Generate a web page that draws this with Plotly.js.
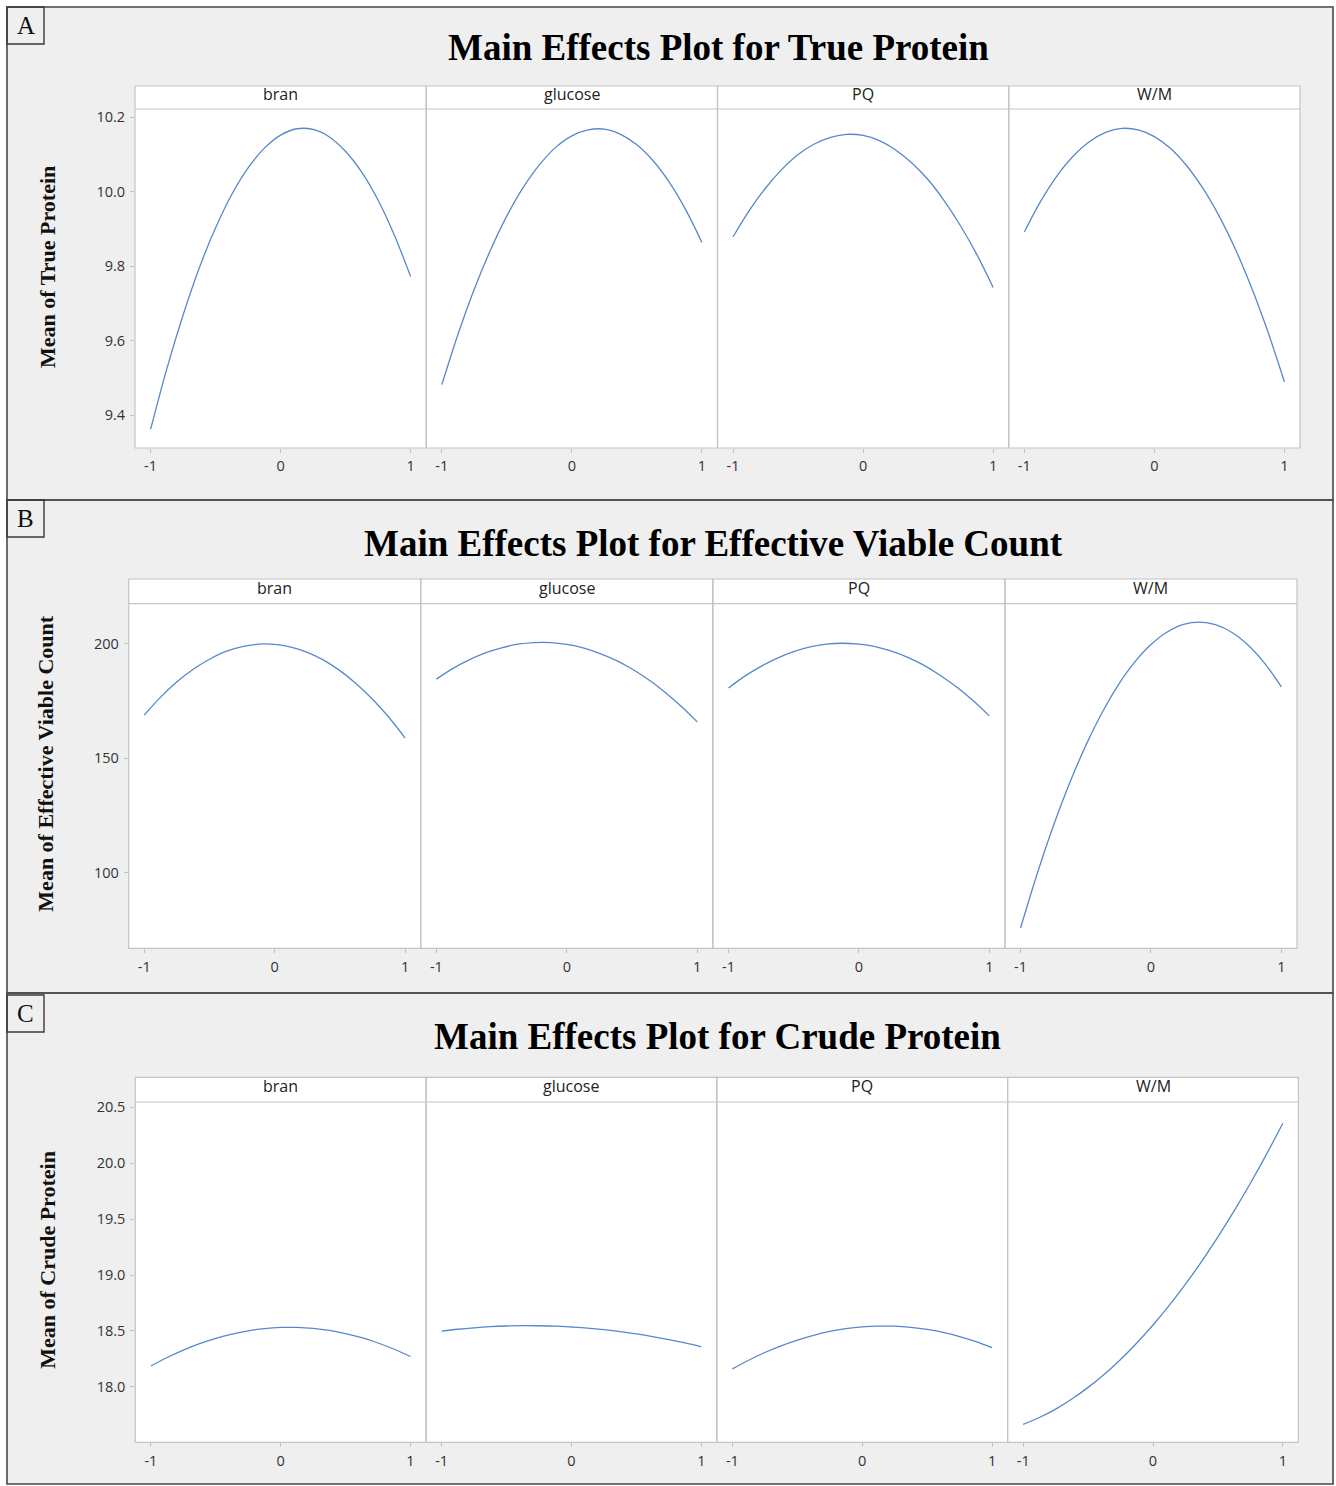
<!DOCTYPE html>
<html>
<head>
<meta charset="utf-8">
<script src="https://cdn.plot.ly/plotly-3.0.1.min.js"></script>
<style>
  html, body { margin: 0; padding: 0; background: #ffffff; }
  #chart { width: 1336px; height: 1486px; }
</style>
</head>
<body>
<div id="chart"></div>
<script>
// ---------------- DATA ----------------
const levels = [-1, -0.875, -0.75, -0.625, -0.5, -0.375, -0.25, -0.125, 0,
                0.125, 0.25, 0.375, 0.5, 0.625, 0.75, 0.875, 1];
const factors = ['bran', 'glucose', 'PQ', 'W/M'];

// A: Mean of True Protein
const trueProteinBran    = [9.362, 9.525, 9.669, 9.796, 9.903, 9.993, 10.064, 10.117, 10.152,
                            10.169, 10.167, 10.147, 10.108, 10.052, 9.977, 9.883, 9.772];
const trueProteinGlucose = [9.482, 9.618, 9.739, 9.844, 9.935, 10.011, 10.072, 10.119, 10.150,
                            10.166, 10.168, 10.154, 10.126, 10.083, 10.025, 9.952, 9.864];
const trueProteinPQ      = [9.879, 9.950, 10.010, 10.060, 10.100, 10.128, 10.146, 10.154, 10.151,
                            10.137, 10.112, 10.077, 10.032, 9.975, 9.908, 9.831, 9.743];
const trueProteinWM      = [9.892, 9.974, 10.042, 10.095, 10.134, 10.159, 10.170, 10.166, 10.148,
                            10.116, 10.069, 10.008, 9.933, 9.844, 9.740, 9.622, 9.490];

// B: Mean of Effective Viable Count
const viableBran    = [168.9, 176.7, 183.4, 188.9, 193.3, 196.7, 198.8, 199.9, 199.8,
                       198.6, 196.3, 192.9, 188.3, 182.6, 175.8, 167.9, 158.8];
const viableGlucose = [184.6, 189.2, 193.0, 196.1, 198.3, 199.9, 200.6, 200.6, 199.8,
                       198.3, 195.9, 192.9, 189.0, 184.4, 179.0, 172.8, 165.9];
const viablePQ      = [180.7, 185.9, 190.2, 193.8, 196.6, 198.7, 199.9, 200.3, 199.9,
                       198.8, 196.8, 194.1, 190.6, 186.2, 181.1, 175.2, 168.5];
const viableWM      = [75.7, 99.0, 120.1, 138.9, 155.5, 169.9, 182.1, 192.0, 199.7,
                       205.2, 208.5, 209.5, 208.3, 204.9, 199.2, 191.3, 181.2];

// C: Mean of Crude Protein
const crudeBran    = [18.186, 18.262, 18.329, 18.386, 18.434, 18.472, 18.501, 18.521, 18.531,
                      18.531, 18.522, 18.504, 18.476, 18.439, 18.392, 18.336, 18.271];
const crudeGlucose = [18.499, 18.515, 18.528, 18.538, 18.544, 18.547, 18.546, 18.543, 18.535,
                      18.525, 18.511, 18.494, 18.473, 18.449, 18.422, 18.392, 18.358];
const crudePQ      = [18.161, 18.238, 18.307, 18.367, 18.418, 18.461, 18.495, 18.520, 18.536,
                      18.543, 18.542, 18.532, 18.514, 18.486, 18.450, 18.405, 18.351];
const crudeWM      = [17.665, 17.726, 17.801, 17.891, 17.995, 18.113, 18.245, 18.392, 18.553,
                      18.728, 18.918, 19.122, 19.341, 19.573, 19.820, 20.081, 20.357];

const xTickVals = [-1, 0, 1];
const xTickText = ['-1', '0', '1'];

const panelLetters = ['A', 'B', 'C'];
const panelTitles = [
  'Main Effects Plot for True Protein',
  'Main Effects Plot for Effective Viable Count',
  'Main Effects Plot for Crude Protein'
];
const yTitles = ['Mean of True Protein', 'Mean of Effective Viable Count', 'Mean of Crude Protein'];
const yTickVals = [
  [9.4, 9.6, 9.8, 10.0, 10.2],
  [100, 150, 200],
  [18.0, 18.5, 19.0, 19.5, 20.0, 20.5]
];
const yTickText = [
  ['9.4', '9.6', '9.8', '10.0', '10.2'],
  ['100', '150', '200'],
  ['18.0', '18.5', '19.0', '19.5', '20.0', '20.5']
];
const seriesByPanel = [
  [trueProteinBran, trueProteinGlucose, trueProteinPQ, trueProteinWM],
  [viableBran, viableGlucose, viablePQ, viableWM],
  [crudeBran, crudeGlucose, crudePQ, crudeWM]
];

// ---------------- LAYOUT GEOMETRY (pixels) ----------------
const W = 1336, H = 1486;
const px = v => v / W;
const py = v => 1 - v / H;

const rows = [
  { left: 135.0, right: 1300.0, stripTop: 86.0,   plotTop: 109.0,  plotBottom: 448.0,  yRange: [9.312, 10.222],
    frame: [7, 7, 1333, 500], box: [7, 7, 44, 44], title: [718, 47], yTitleX: 48 },
  { left: 128.7, right: 1297.0, stripTop: 579.0,  plotTop: 603.7,  plotBottom: 948.3,  yRange: [66.8, 217.6],
    frame: [7, 500, 1333, 993], box: [7, 500, 44, 537], title: [713, 543], yTitleX: 46 },
  { left: 135.3, right: 1298.4, stripTop: 1077.3, plotTop: 1102.0, plotBottom: 1442.3, yRange: [17.504, 20.547],
    frame: [7, 993, 1333, 1484], box: [7, 995, 44, 1032], title: [717, 1036], yTitleX: 48 }
];
const xRange = [-1.12, 1.12];

const lineColor = 'rgb(86,136,204)';
const frameGrey = '#c4c4c4';
const tickFont = { family: 'Open Sans, Noto Sans, sans-serif', size: 14.5, color: '#333333' };
const stripFont = { family: 'Open Sans, Noto Sans, sans-serif', size: 16, color: '#222222' };
const serif = 'Liberation Serif, Times New Roman, serif';

const traces = [];
const layout = {
  width: W, height: H, autosize: false,
  margin: { l: 0, r: 0, t: 0, b: 0, pad: 0 },
  paper_bgcolor: '#efefef',
  plot_bgcolor: '#ffffff',
  showlegend: false,
  shapes: [],
  annotations: []
};

// white page edges outside the panel frames
layout.shapes.push(
  { type: 'rect', xref: 'paper', yref: 'paper', x0: 0, x1: px(6), y0: 0, y1: 1, fillcolor: '#ffffff', line: { width: 0 }, layer: 'below' },
  { type: 'rect', xref: 'paper', yref: 'paper', x0: 0, x1: 1, y0: py(6), y1: 1, fillcolor: '#ffffff', line: { width: 0 }, layer: 'below' },
  { type: 'rect', xref: 'paper', yref: 'paper', x0: px(1334), x1: 1, y0: 0, y1: 1, fillcolor: '#ffffff', line: { width: 0 }, layer: 'below' },
  { type: 'rect', xref: 'paper', yref: 'paper', x0: 0, x1: 1, y0: 0, y1: py(1485), fillcolor: '#ffffff', line: { width: 0 }, layer: 'below' }
);

let axisIndex = 0;
rows.forEach((r, ri) => {
  const yName = ri === 0 ? 'y' : 'y' + (ri + 1);
  const yKey = ri === 0 ? 'yaxis' : 'yaxis' + (ri + 1);
  const pw = (r.right - r.left) / 4;
  const firstX = axisIndex + 1;

  layout[yKey] = {
    domain: [py(r.plotBottom), py(r.plotTop)],
    range: r.yRange,
    anchor: firstX === 1 ? 'x' : 'x' + firstX,
    tickmode: 'array', tickvals: yTickVals[ri], ticktext: yTickText[ri],
    ticks: 'outside', ticklen: 4, tickwidth: 1, tickcolor: '#c0c0c0',
    ticklabelstandoff: 2,
    showgrid: false, zeroline: false, showline: false,
    tickfont: tickFont, fixedrange: true
  };

  for (let fi = 0; fi < 4; fi++) {
    axisIndex++;
    const xName = axisIndex === 1 ? 'x' : 'x' + axisIndex;
    const xKey = axisIndex === 1 ? 'xaxis' : 'xaxis' + axisIndex;
    const x0 = r.left + fi * pw, x1 = r.left + (fi + 1) * pw;
    layout[xKey] = {
      domain: [px(x0), px(x1)],
      range: xRange,
      anchor: yName,
      tickmode: 'array', tickvals: xTickVals, ticktext: xTickText,
      ticks: 'outside', ticklen: 4, tickwidth: 1, tickcolor: '#c0c0c0',
      ticklabelstandoff: 1,
      showgrid: false, zeroline: false, showline: false,
      tickfont: tickFont, fixedrange: true
    };
    traces.push({
      type: 'scatter', mode: 'lines',
      x: levels, y: seriesByPanel[ri][fi],
      xaxis: xName, yaxis: yName,
      line: { color: lineColor, width: 1.3, shape: 'spline', smoothing: 1 },
      hoverinfo: 'skip'
    });

    // strip (white header box)
    layout.shapes.push({
      type: 'rect', xref: 'paper', yref: 'paper',
      x0: px(x0), x1: px(x1), y0: py(r.plotTop), y1: py(r.stripTop),
      fillcolor: '#ffffff', line: { width: 0 }, layer: 'below'
    });
    // subplot frame incl. strip
    layout.shapes.push({
      type: 'rect', xref: 'paper', yref: 'paper',
      x0: px(x0), x1: px(x1), y0: py(r.plotBottom), y1: py(r.stripTop),
      line: { color: frameGrey, width: 1.2 }, layer: 'above'
    });
    // strip separator
    layout.shapes.push({
      type: 'line', xref: 'paper', yref: 'paper',
      x0: px(x0), x1: px(x1), y0: py(r.plotTop), y1: py(r.plotTop),
      line: { color: frameGrey, width: 1.2 }, layer: 'above'
    });
    layout.annotations.push({
      xref: 'paper', yref: 'paper', x: px((x0 + x1) / 2), y: py((r.stripTop + r.plotTop) / 2 - 3.5),
      text: factors[fi], showarrow: false, xanchor: 'center', yanchor: 'middle',
      font: stripFont
    });
  }

  // panel frame
  const f = r.frame;
  layout.shapes.push({
    type: 'rect', xref: 'paper', yref: 'paper',
    x0: px(f[0]), x1: px(f[2]), y0: py(f[3]), y1: py(f[1]),
    line: { color: '#4a4a4a', width: 1.6 }, layer: 'above'
  });
  // letter box
  const b = r.box;
  layout.shapes.push({
    type: 'rect', xref: 'paper', yref: 'paper',
    x0: px(b[0]), x1: px(b[2]), y0: py(b[3]), y1: py(b[1]),
    line: { color: '#3a3a3a', width: 1.4 }, layer: 'above'
  });
  layout.annotations.push({
    xref: 'paper', yref: 'paper', x: px((b[0] + b[2]) / 2), y: py((b[1] + b[3]) / 2),
    text: panelLetters[ri], showarrow: false, xanchor: 'center', yanchor: 'middle',
    font: { family: serif, size: 25, color: '#111111' }
  });
  // main title
  layout.annotations.push({
    xref: 'paper', yref: 'paper', x: px(r.title[0]), y: py(r.title[1]),
    text: '<b>' + panelTitles[ri] + '</b>', showarrow: false, xanchor: 'center', yanchor: 'middle',
    font: { family: serif, size: 37, color: '#000000' }
  });
  // y-axis title
  layout.annotations.push({
    xref: 'paper', yref: 'paper', x: px(r.yTitleX), y: py((r.stripTop + r.plotBottom) / 2),
    text: '<b>' + yTitles[ri] + '</b>', showarrow: false, textangle: -90,
    xanchor: 'center', yanchor: 'middle',
    font: { family: serif, size: 22, color: '#111111' }
  });
});

Plotly.newPlot('chart', traces, layout, { staticPlot: true, displayModeBar: false });
</script>
</body>
</html>
